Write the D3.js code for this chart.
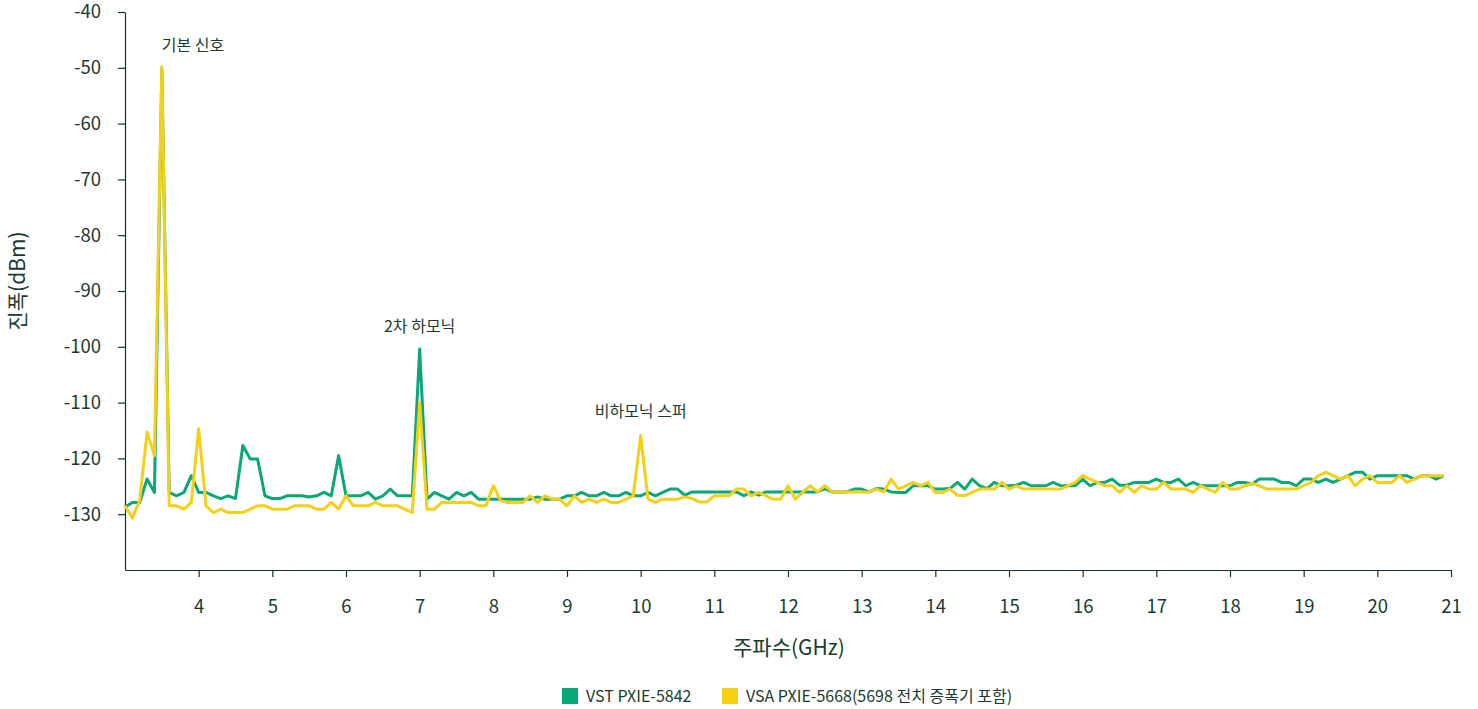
<!DOCTYPE html>
<html>
<head>
<meta charset="utf-8">
<script src="https://cdn.jsdelivr.net/npm/d3@7"></script>
<style>
  body { margin: 0; background: #fff; }
  .chart text { font-family: "Noto Sans CJK KR", "Noto Sans", sans-serif; fill: #1a3a2f; }
  .axis path, .axis line { stroke: #10352a; stroke-width: 1.2; }
</style>
</head>
<body>
<svg class="chart"></svg>
<script>
//======
// Data
//======

// frequency grid, GHz (3.0 .. 20.9, 0.1 step)
var freqs = d3.range(0, 180).map(function(i) { return +(3 + i * 0.1).toFixed(1); });

var vstValues = [
  -128.7, -127.9, -127.9, -123.7, -126.1, -50.2, -126.1, -126.7, -126.1, -123.1,
  -126.1, -126.1, -126.7, -127.2, -126.7, -127.2, -117.7, -120.1, -120.1, -126.7,
  -127.2, -127.2, -126.7, -126.7, -126.7, -126.9, -126.7, -126.1, -126.7, -119.5,
  -126.7, -126.7, -126.7, -126.1, -127.3, -126.7, -125.5, -126.7, -126.7, -126.7,
  -100.4, -127.3, -126.1, -126.7, -127.3, -126.1, -126.7, -126.1, -127.3, -127.3,
  -127.3, -127.3, -127.3, -127.3, -127.3, -127.3, -126.9, -127.3, -127.3, -127.3,
  -126.7, -126.7, -126.1, -126.7, -126.7, -126.1, -126.7, -126.7, -126.1, -126.7,
  -126.7, -126.1, -126.7, -126.1, -125.5, -125.5, -126.6, -126.0, -126.0, -126.0,
  -126.0, -126.0, -126.0, -126.0, -126.7, -126.0, -126.6, -126.0, -126.0, -126.0,
  -126.0, -126.0, -126.0, -126.0, -126.0, -125.4, -126.0, -126.0, -126.0, -125.5,
  -125.5, -126.0, -125.4, -125.5, -126.0, -126.1, -126.1, -124.9, -124.9, -124.9,
  -125.5, -125.5, -125.4, -124.3, -125.5, -123.7, -124.9, -125.4, -124.3, -124.9,
  -124.9, -124.8, -124.3, -124.9, -124.9, -124.9, -124.3, -124.9, -124.9, -124.9,
  -123.7, -124.9, -124.3, -124.3, -123.7, -124.8, -124.8, -124.3, -124.3, -124.3,
  -123.7, -124.3, -124.3, -123.7, -124.9, -124.3, -124.9, -124.9, -124.9, -124.9,
  -124.9, -124.3, -124.3, -124.6, -123.7, -123.7, -123.7, -124.3, -124.3, -124.9,
  -123.7, -123.7, -124.3, -123.7, -124.3, -123.7, -123.1, -122.5, -122.5, -123.7,
  -123.1, -123.1, -123.1, -123.1, -123.1, -123.7, -123.1, -123.1, -123.7, -123.1
];

var vsaValues = [
  -128.5, -130.7, -127.5, -115.3, -119.5, -49.8, -128.5, -128.5, -129.1, -127.9,
  -114.7, -128.5, -129.7, -129.1, -129.7, -129.7, -129.7, -129.1, -128.5, -128.5,
  -129.1, -129.1, -129.1, -128.5, -128.5, -128.5, -129.1, -129.1, -127.9, -129.1,
  -126.7, -128.5, -128.5, -128.5, -127.9, -128.5, -128.5, -128.5, -129.1, -129.7,
  -110.0, -129.1, -129.1, -127.9, -127.9, -127.9, -127.9, -127.9, -128.5, -128.5,
  -124.9, -127.6, -127.9, -127.9, -127.9, -126.7, -127.9, -126.7, -127.3, -127.3,
  -128.5, -126.7, -127.9, -127.3, -127.9, -127.3, -127.9, -127.9, -127.3, -126.7,
  -115.9, -127.3, -127.9, -127.3, -127.3, -127.3, -126.9, -127.2, -127.8, -127.8,
  -126.7, -126.7, -126.7, -125.5, -125.5, -126.7, -126.1, -126.7, -127.3, -127.3,
  -124.9, -127.3, -126.1, -124.9, -126.0, -124.9, -126.0, -126.0, -126.0, -126.0,
  -126.0, -126.0, -125.5, -126.0, -123.7, -125.5, -124.9, -124.3, -124.9, -124.3,
  -126.1, -126.1, -125.5, -126.6, -126.7, -126.1, -125.5, -125.5, -125.5, -124.3,
  -125.5, -124.9, -125.5, -125.5, -125.5, -125.5, -125.5, -125.5, -124.9, -124.3,
  -123.1, -123.7, -124.3, -124.9, -124.9, -126.1, -124.9, -126.1, -124.9, -125.5,
  -125.5, -124.3, -125.5, -125.5, -125.5, -126.1, -124.9, -125.5, -126.1, -124.3,
  -125.5, -125.5, -124.9, -124.5, -124.9, -125.5, -125.5, -125.5, -125.5, -125.5,
  -124.9, -124.3, -123.1, -122.5, -123.1, -123.7, -123.1, -124.9, -123.7, -123.1,
  -124.3, -124.3, -124.3, -123.1, -124.3, -123.7, -123.1, -123.1, -123.1, -123.1
];

var seriesNames = ["VST PXIE-5842", "VSA PXIE-5668(5698 전치 증폭기 포함)"];
var seriesColors = ["#08a87a", "#f5d016"];

var xTicks = [4, 5, 6, 7, 8, 9, 10, 11, 12, 13, 14, 15, 16, 17, 18, 19, 20, 21];
var yTicks = [-40, -50, -60, -70, -80, -90, -100, -110, -120, -130];

var noteLabels = ["기본 신호", "2차 하모닉", "비하모닉 스퍼"];
var noteFreqs = [3.5, 7.0, 10.0];
var noteValues = [-49.8, -100.4, -115.9];

//=======
// Chart
//=======

var width = 1478,
  height = 709;

var svg = d3.select(".chart")
  .attr("width", width)
  .attr("height", height);

var xScale = d3.scaleLinear()
  .domain([3, 21])
  .range([125, 1451]);

var yScale = d3.scaleLinear()
  .domain([-140, -40])
  .range([570, 12]);

// plain hyphen for negatives, like the original
var plain = function(d) { return String(d); };

// axes
var xAxis = svg.append("g")
  .attr("class", "axis")
  .attr("transform", "translate(0, " + yScale(-140) + ")")
  .call(d3.axisBottom(xScale).tickValues(xTicks).tickFormat(plain).tickSize(7).tickPadding(23).tickSizeOuter(0));

var yAxis = svg.append("g")
  .attr("class", "axis")
  .attr("transform", "translate(" + xScale(3) + ", 0)")
  .call(d3.axisLeft(yScale).tickValues(yTicks).tickFormat(plain).tickSize(7).tickPadding(17).tickSizeOuter(0));

svg.selectAll(".axis text")
  .style("font-size", "18.5px")
  .attr("fill", "#1a3a2f");

// axis titles
svg.append("text")
  .attr("x", 789)
  .attr("y", 655)
  .attr("text-anchor", "middle")
  .style("font-size", "21px")
  .text("주파수(GHz)");

svg.append("text")
  .attr("transform", "translate(25, 281) rotate(-90)")
  .attr("text-anchor", "middle")
  .style("font-size", "21px")
  .text("진폭(dBm)");

// lines
var line = d3.line()
  .x(function(d) { return xScale(d[0]); })
  .y(function(d) { return yScale(d[1]); });

[vstValues, vsaValues].forEach(function(values, s) {
  svg.append("path")
    .datum(freqs.map(function(f, i) { return [f, values[i]]; }))
    .attr("fill", "none")
    .attr("stroke", seriesColors[s])
    .attr("stroke-width", 3)
    .attr("stroke-linejoin", "round")
    .attr("d", line);
});

// annotations
var noteAnchor = ["start", "middle", "middle"];
var noteGap = [16, 17, 19];

svg.selectAll(".note")
  .data(noteLabels)
  .enter()
  .append("text")
  .attr("class", "note")
  .attr("x", function(d, i) { return xScale(noteFreqs[i]); })
  .attr("y", function(d, i) { return yScale(noteValues[i]) - noteGap[i]; })
  .attr("text-anchor", function(d, i) { return noteAnchor[i]; })
  .style("font-size", "16px")
  .text(function(d) { return d; });

// legend
var legendX = [562, 722];
var legend = svg.selectAll(".legend")
  .data(seriesNames)
  .enter()
  .append("g")
  .attr("class", "legend")
  .attr("transform", function(d, i) { return "translate(" + legendX[i] + ", 688)"; });

legend.append("rect")
  .attr("width", 16)
  .attr("height", 16)
  .attr("fill", function(d, i) { return seriesColors[i]; });

legend.append("text")
  .attr("x", 24)
  .attr("y", 14)
  .style("font-size", "16px")
  .text(function(d) { return d; });
</script>
</body>
</html>
